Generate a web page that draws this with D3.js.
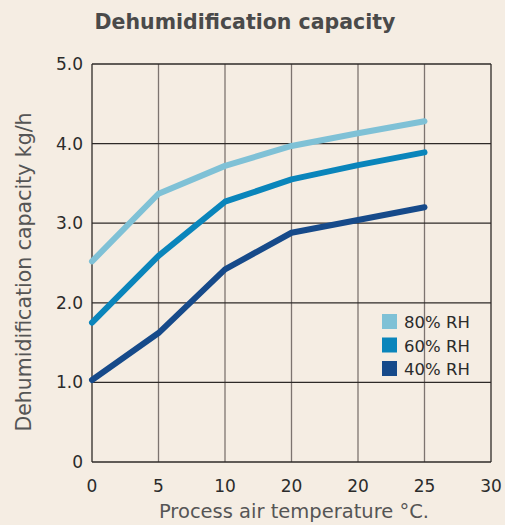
<!DOCTYPE html>
<html>
<head>
<meta charset="utf-8">
<script src="https://cdn.jsdelivr.net/npm/d3@7"></script>
<style>
  body { margin: 0; background: #f5ede3; }
  text { font-family: "DejaVu Sans", sans-serif; }
</style>
</head>
<body>
<div id="chart"></div>
<script>
var svgWidth = 505;
var svgHeight = 525;

var margin = { top: 64, bottom: 63, right: 14, left: 92 };
var width = svgWidth - margin.left - margin.right;
var height = svgHeight - margin.top - margin.bottom;

// data
var xLabels = ["0", "5", "10", "20", "20", "25", "30"];
var yTicks = [0, 1, 2, 3, 4, 5];
var seriesNames = ["80% RH", "60% RH", "40% RH"];
var seriesColors = ["#7fc1d6", "#0a85bb", "#164a8a"];
var rh80 = [2.52, 3.37, 3.72, 3.97, 4.13, 4.28];
var rh60 = [1.75, 2.59, 3.27, 3.55, 3.73, 3.89];
var rh40 = [1.03, 1.62, 2.42, 2.88, 3.04, 3.2];
var allSeries = [rh80, rh60, rh40];

var svg = d3.select("#chart")
    .append("svg")
    .attr("width", svgWidth)
    .attr("height", svgHeight);

svg.append("rect")
    .attr("width", svgWidth)
    .attr("height", svgHeight)
    .attr("fill", "#f5ede3");

var chartGroup = svg.append("g")
    .attr("transform", `translate(${margin.left}, ${margin.top})`);

var xScale = d3.scalePoint()
    .domain(d3.range(xLabels.length))
    .range([0, width]);

var yScale = d3.scaleLinear()
    .domain([0, 5])
    .range([height, 0]);

// vertical grid
chartGroup.selectAll(".vgrid")
    .data(d3.range(xLabels.length))
    .enter()
    .append("line")
    .attr("x1", d => xScale(d))
    .attr("x2", d => xScale(d))
    .attr("y1", 0)
    .attr("y2", height)
    .attr("stroke", d => (d === 0 || d === xLabels.length - 1) ? "#2e2a28" : "#7d7470")
    .attr("stroke-width", 1.3);

// horizontal grid
chartGroup.selectAll(".hgrid")
    .data(yTicks)
    .enter()
    .append("line")
    .attr("x1", 0)
    .attr("x2", width)
    .attr("y1", d => yScale(d))
    .attr("y2", d => yScale(d))
    .attr("stroke", "#2e2a28")
    .attr("stroke-width", 1.3);

// tick labels
chartGroup.selectAll(".ylab")
    .data(yTicks)
    .enter()
    .append("text")
    .attr("x", -9)
    .attr("y", d => yScale(d) + 6)
    .attr("text-anchor", "end")
    .style("font-size", "17px")
    .style("fill", "#2b2b2b")
    .text(d => d === 0 ? "0" : d3.format(".1f")(d));

chartGroup.selectAll(".xlab")
    .data(xLabels)
    .enter()
    .append("text")
    .attr("x", (d, i) => xScale(i))
    .attr("y", height + 30)
    .attr("text-anchor", "middle")
    .style("font-size", "17px")
    .style("fill", "#2b2b2b")
    .text(d => d);

// lines
var line = d3.line()
    .x((d, i) => xScale(i))
    .y(d => yScale(d));

chartGroup.selectAll(".series")
    .data(allSeries)
    .enter()
    .append("path")
    .attr("d", d => line(d))
    .attr("fill", "none")
    .attr("stroke", (d, i) => seriesColors[i])
    .attr("stroke-width", 6)
    .attr("stroke-linejoin", "round")
    .attr("stroke-linecap", "round");

// legend
var legend = chartGroup.append("g")
    .attr("transform", `translate(290, 250)`);

seriesNames.forEach(function(name, i) {
    legend.append("rect")
        .attr("x", 0)
        .attr("y", i * 23.5)
        .attr("width", 15)
        .attr("height", 15)
        .attr("fill", seriesColors[i]);
    legend.append("text")
        .attr("x", 22)
        .attr("y", i * 23.5 + 14)
        .style("font-size", "16.5px")
        .style("fill", "#2b2b2b")
        .text(name);
});

// titles
svg.append("text")
    .attr("x", 245)
    .attr("y", 29)
    .attr("text-anchor", "middle")
    .style("font-size", "20.5px")
    .style("font-weight", "bold")
    .style("fill", "#4a4a4a")
    .text("Dehumidification capacity");

svg.append("text")
    .attr("x", 294)
    .attr("y", 518)
    .attr("text-anchor", "middle")
    .style("font-size", "19.5px")
    .style("fill", "#555")
    .text("Process air temperature °C.");

svg.append("text")
    .attr("transform", "rotate(-90)")
    .attr("x", -272)
    .attr("y", 31)
    .attr("text-anchor", "middle")
    .style("font-size", "20.5px")
    .style("fill", "#555")
    .text("Dehumidification capacity kg/h");
</script>
</body>
</html>
